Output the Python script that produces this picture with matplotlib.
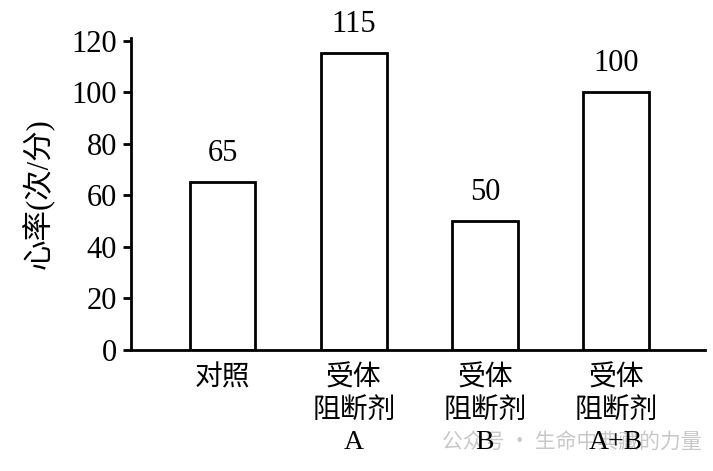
import matplotlib
matplotlib.use("Agg")
import matplotlib.pyplot as plt

categories = ["对照", "受体\n阻断剂\nA", "受体\n阻断剂\nB", "受体\n阻断剂\nA+B"]
heart_rate = [65, 115, 50, 100]
yticks = [0, 20, 40, 60, 80, 100, 120]

fam = ["Liberation Serif", "Noto Sans CJK SC"]
plt.rcParams["font.family"] = fam

fig = plt.figure(figsize=(7.13, 4.71), dpi=100)
ax = fig.add_axes([131 / 713, 1 - 350 / 471, (705 - 131) / 713, (350 - 38) / 471])
ax.patch.set_alpha(0)

x = list(range(len(categories)))
ax.bar(x, heart_rate, width=0.5, color="white", edgecolor="black", linewidth=2)
for xi, v in zip(x, heart_rate):
    ax.text(xi, v + 5.5, str(v), ha="center", va="bottom", fontsize=22)

ax.set_xlim(-0.70, 3.68)
ax.set_ylim(0, 121)
ax.set_yticks(yticks)
ax.set_yticklabels([str(t) for t in yticks], fontsize=22)
ax.set_xticks(x)
ax.set_xticklabels(categories, fontsize=20, linespacing=1.32, va="top")
ax.tick_params(axis="x", length=0, pad=11)
ax.tick_params(axis="y", length=6, width=2, direction="out", pad=4)
for s in ["top", "right"]:
    ax.spines[s].set_visible(False)
for s in ["left", "bottom"]:
    ax.spines[s].set_linewidth(2)

ax.set_ylabel("心率(次/分)", fontsize=22, labelpad=12)

# watermark sits under the tick labels
fig.text(442 / 713, 0.062, "公众号 · 生命中典藏的力量", fontsize=15, color="#c8c8c8",
         family=["Noto Sans CJK SC", "DejaVu Sans"], ha="left", va="center", zorder=-1)

fig.savefig("out.png", dpi=100)
